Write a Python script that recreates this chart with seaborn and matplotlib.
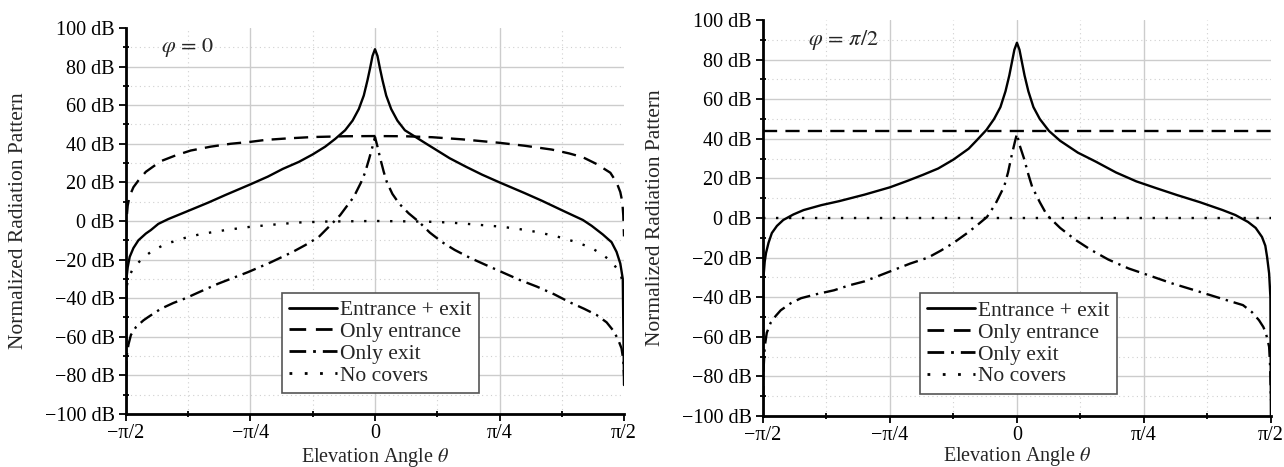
import numpy as np
import pandas as pd
import seaborn as sns
import matplotlib.pyplot as plt
from matplotlib.ticker import MultipleLocator

sns.set_style("ticks")
plt.rcParams['font.family'] = ['Liberation Serif', 'DejaVu Serif']
plt.rcParams['mathtext.fontset'] = 'stix'

series = ["Entrance + exit", "Only entrance", "Only exit", "No covers"]

# theta in units of pi/2, values in dB
# --- phi = 0 ---
u_both_0 = [-1.0, -0.998, -0.993, -0.985, -0.97, -0.95, -0.92, -0.9, -0.87, -0.83, -0.76, -0.67,
            -0.6, -0.5, -0.43, -0.37, -0.306, -0.25, -0.2, -0.16, -0.12, -0.09, -0.065, -0.045,
            -0.03, -0.02, -0.01, 0.0, 0.01, 0.02, 0.03, 0.045, 0.065, 0.09, 0.12, 0.157,
            0.2, 0.25, 0.3, 0.367, 0.43, 0.5, 0.6, 0.67, 0.76, 0.835, 0.87, 0.915,
            0.95, 0.97, 0.985, 0.995, 1.0]
db_both_0 = [-100, -30, -24, -18.6, -14, -10, -6.5, -4.7, -1.5, 1, 4.7, 9.5,
             13.5, 19, 23, 27, 30.6, 34.5, 38.5, 42.5, 47, 52, 58, 65,
             73, 79, 85.5, 89, 85.5, 79, 73, 65, 58, 52, 47, 44,
             40.5, 36.5, 32.5, 28, 24, 20, 14.5, 10.5, 5, 0.5, -2.5, -7,
             -11, -16, -22, -30, -85]

u_ent_0 = [-1.0, -0.997, -0.993, -0.985, -0.97, -0.95, -0.92, -0.86, -0.8, -0.74, -0.66, -0.58,
           -0.5, -0.44, -0.35, -0.25, -0.12, 0.0, 0.12, 0.23, 0.35, 0.5, 0.6, 0.71,
           0.78, 0.835, 0.89, 0.945, 0.97, 0.985, 0.993, 0.997, 1.0]
db_ent_0 = [-8, 2, 8, 13, 17.5, 21, 25.5, 31, 34, 36.5, 38.5, 40,
            41, 42, 42.8, 43.5, 43.9, 44, 43.9, 43.4, 42.3, 40.5, 39, 37,
            35, 33, 29.5, 25, 20, 15, 10, 3, -8]

u_exit_0 = [-1.0, -0.997, -0.99, -0.98, -0.96, -0.93, -0.91, -0.86, -0.81, -0.76, -0.7, -0.63,
            -0.57, -0.51, -0.42, -0.33, -0.28, -0.226, -0.17, -0.14, -0.117, -0.085, -0.056, -0.04,
            -0.024, -0.01, 0.0, 0.01, 0.02, 0.035, 0.048, 0.07, 0.097, 0.135, 0.177, 0.22,
            0.27, 0.32, 0.38, 0.44, 0.51, 0.58, 0.65, 0.72, 0.78, 0.84, 0.89, 0.93,
            0.955, 0.975, 0.99, 0.997, 1.0]
db_exit_0 = [-80, -70, -64, -59, -55, -51.5, -49.7, -45.5, -42.5, -40, -36.5, -32.5,
             -29.5, -26.5, -21.5, -16, -12.5, -8.3, -1, 3, 7, 12.5, 20, 25,
             32, 38.5, 43.5, 38.5, 33, 25.5, 20, 14, 9, 4, -0.5, -6,
             -11, -15, -19, -22.5, -26.5, -30.5, -34, -38, -42, -45.5, -48.7, -52.5,
             -56.5, -61, -66, -72, -80]

u_none_0 = [-1.0, -0.997, -0.99, -0.975, -0.96, -0.93, -0.9, -0.85, -0.78, -0.7, -0.6, -0.5,
            -0.4, -0.31, -0.2, 0.0, 0.2, 0.3, 0.4, 0.51, 0.58, 0.65, 0.73, 0.81,
            0.87, 0.915, 0.95, 0.985, 0.995, 1.0]
db_none_0 = [-40, -34, -29.5, -25.5, -22.8, -19, -16, -12.5, -9.3, -6.8, -4.7, -3,
             -1.8, -0.8, -0.3, 0, -0.3, -0.8, -1.8, -3, -4.2, -5.7, -8, -11,
             -14, -17.6, -21, -27, -32, -40]

# --- phi = pi/2 ---
u_both_90 = [-1.0, -0.998, -0.993, -0.988, -0.978, -0.965, -0.945, -0.92, -0.88, -0.84, -0.77, -0.7,
             -0.6, -0.5, -0.43, -0.37, -0.31, -0.25, -0.19, -0.16, -0.12, -0.09, -0.065, -0.045,
             -0.03, -0.02, -0.01, 0.0, 0.01, 0.02, 0.03, 0.045, 0.065, 0.09, 0.126, 0.17,
             0.24, 0.31, 0.39, 0.47, 0.55, 0.63, 0.72, 0.81, 0.86, 0.91, 0.94, 0.965,
             0.978, 0.985, 0.993, 0.998, 1.0]
db_both_90 = [-100, -30, -22, -17.7, -12.5, -7.6, -4, -1, 1.8, 4, 6.5, 8.5,
              11.8, 15.5, 18.8, 21.8, 25, 29.5, 35, 39, 44.5, 50, 56, 64,
              72, 78.5, 85, 88.5, 85, 78.5, 72, 64, 56, 50, 44, 39,
              33, 28.5, 23, 18.5, 15, 11.6, 8, 4, 1.5, -2, -5, -9.6,
              -14, -19.7, -28, -40, -100]

u_ent_90 = [-1.0, 0.0, 1.0]
db_ent_90 = [44, 44, 44]

u_exit_90 = [-1.0, -0.997, -0.993, -0.985, -0.97, -0.95, -0.93, -0.89, -0.85, -0.79, -0.72, -0.66,
             -0.6, -0.54, -0.48, -0.42, -0.35, -0.3, -0.25, -0.2, -0.16, -0.118, -0.085, -0.05,
             -0.035, -0.02, -0.008, 0.0, 0.01, 0.028, 0.045, 0.06, 0.09, 0.118, 0.17, 0.23,
             0.29, 0.36, 0.44, 0.52, 0.61, 0.70, 0.8, 0.89, 0.925, 0.953, 0.97, 0.98,
             0.993, 0.997, 1.0]
db_exit_90 = [-92, -75, -65, -58, -53, -49.5, -46.6, -43, -40.5, -38.5, -36.5, -34,
              -32, -29, -26, -23, -20, -16.5, -12.6, -8, -4, 0.5, 7, 16,
              23, 32, 38.5, 42.5, 37, 30, 22, 15.7, 8, 1.5, -5, -11,
              -16, -21, -25.5, -29, -33, -36.5, -40.5, -44, -47.5, -51.6, -55, -58,
              -65, -75, -92]

u_none_90 = [-1.0, 0.0, 1.0]
db_none_90 = [0, 0, 0]


def make_df(parts):
    frames = []
    for name, u, db in parts:
        frames.append(pd.DataFrame({"theta": np.array(u) * np.pi / 2, "dB": db, "series": name}))
    return pd.concat(frames, ignore_index=True)


df0 = make_df([(series[0], u_both_0, db_both_0), (series[1], u_ent_0, db_ent_0),
               (series[2], u_exit_0, db_exit_0), (series[3], u_none_0, db_none_0)])
df90 = make_df([(series[0], u_both_90, db_both_90), (series[1], u_ent_90, db_ent_90),
                (series[2], u_exit_90, db_exit_90), (series[3], u_none_90, db_none_90)])

dashes = {series[0]: "", series[1]: (6, 3.5), series[2]: (6, 2.5, 1, 2.5), series[3]: (1, 4.5)}

fig = plt.figure(figsize=(12.84, 4.67), dpi=100)
ax1 = fig.add_axes([0.0981, 0.1135, 0.3879, 0.8266])
ax2 = fig.add_axes([0.5942, 0.1092, 0.3956, 0.848])


def draw(ax, df, note, leg_anchor, note_xy, ylab_x, xlab_y):
    sns.lineplot(data=df, x="theta", y="dB", hue="series", style="series",
                 hue_order=series, style_order=series, palette=["black"] * 4,
                 dashes=dashes, estimator=None, sort=False, lw=1.7, ax=ax)
    ax.set_xlim(-np.pi / 2, np.pi / 2)
    ax.set_ylim(-100, 100)
    ax.set_xticks([-np.pi / 2, -np.pi / 4, 0, np.pi / 4, np.pi / 2])
    ax.set_xticklabels(["\u2212\u03c0/2", "\u2212\u03c0/4", "0", "\u03c0/4", "\u03c0/2"])
    ax.set_xticks([-3 * np.pi / 8, -np.pi / 8, np.pi / 8, 3 * np.pi / 8], minor=True)
    yt = list(range(-100, 101, 20))
    ax.set_yticks(yt)
    ax.set_yticklabels([f"{v} dB".replace("-", "\u2212") for v in yt])
    ax.yaxis.set_minor_locator(MultipleLocator(10))
    ax.grid(which="major", color="#cccccc", lw=1.0, ls="-")
    ax.grid(which="minor", color="#d0d0d0", lw=0.8, ls=(0, (1, 3)))
    ax.get_ygridlines()[-1].set_visible(False)
    ax.get_xgridlines()[-1].set_visible(False)
    ax.set_axisbelow(True)
    for s in ["top", "right"]:
        ax.spines[s].set_visible(False)
    for s in ["left", "bottom"]:
        ax.spines[s].set_color("black")
        ax.spines[s].set_linewidth(2)
    ax.tick_params(which="major", direction="out", length=5, width=1.3, colors="black",
                   labelsize=14.5, pad=3)
    ax.tick_params(axis="x", which="major", pad=2)
    ax.tick_params(which="minor", direction="inout", length=5, width=1.3, colors="black")
    ax.set_xlabel(r"Elevation Angle $\theta$", fontsize=14.5)
    ax.set_ylabel("Normalized Radiation Pattern", fontsize=15.5)
    ax.yaxis.set_label_coords(ylab_x, 0.5)
    ax.xaxis.set_label_coords(0.5, xlab_y)
    ax.text(note_xy[0], note_xy[1], note, transform=ax.transAxes, fontsize=16, va="center")

    old = ax.get_legend()
    handles = old.legend_handles
    texts = [t.get_text() for t in old.get_texts()]
    for h in handles:
        h.set_linewidth(2)
    leg = ax.legend(handles, texts, loc="lower left", bbox_to_anchor=leg_anchor,
                    fontsize=15.5, frameon=True, fancybox=False, framealpha=1,
                    edgecolor="#555555", handlelength=2.2, handletextpad=0.15,
                    labelspacing=0.08, borderpad=0.35, borderaxespad=0)
    leg.get_frame().set_linewidth(1.2)


draw(ax1, df0, r"$\varphi\,=\,0$", (0.313, 0.054), (0.07, 0.95), -0.197, -0.083)
draw(ax2, df90, r"$\varphi\,=\,\pi/2$", (0.309, 0.056), (0.089, 0.95), -0.193, -0.074)

fig.savefig("out.png", dpi=100)
